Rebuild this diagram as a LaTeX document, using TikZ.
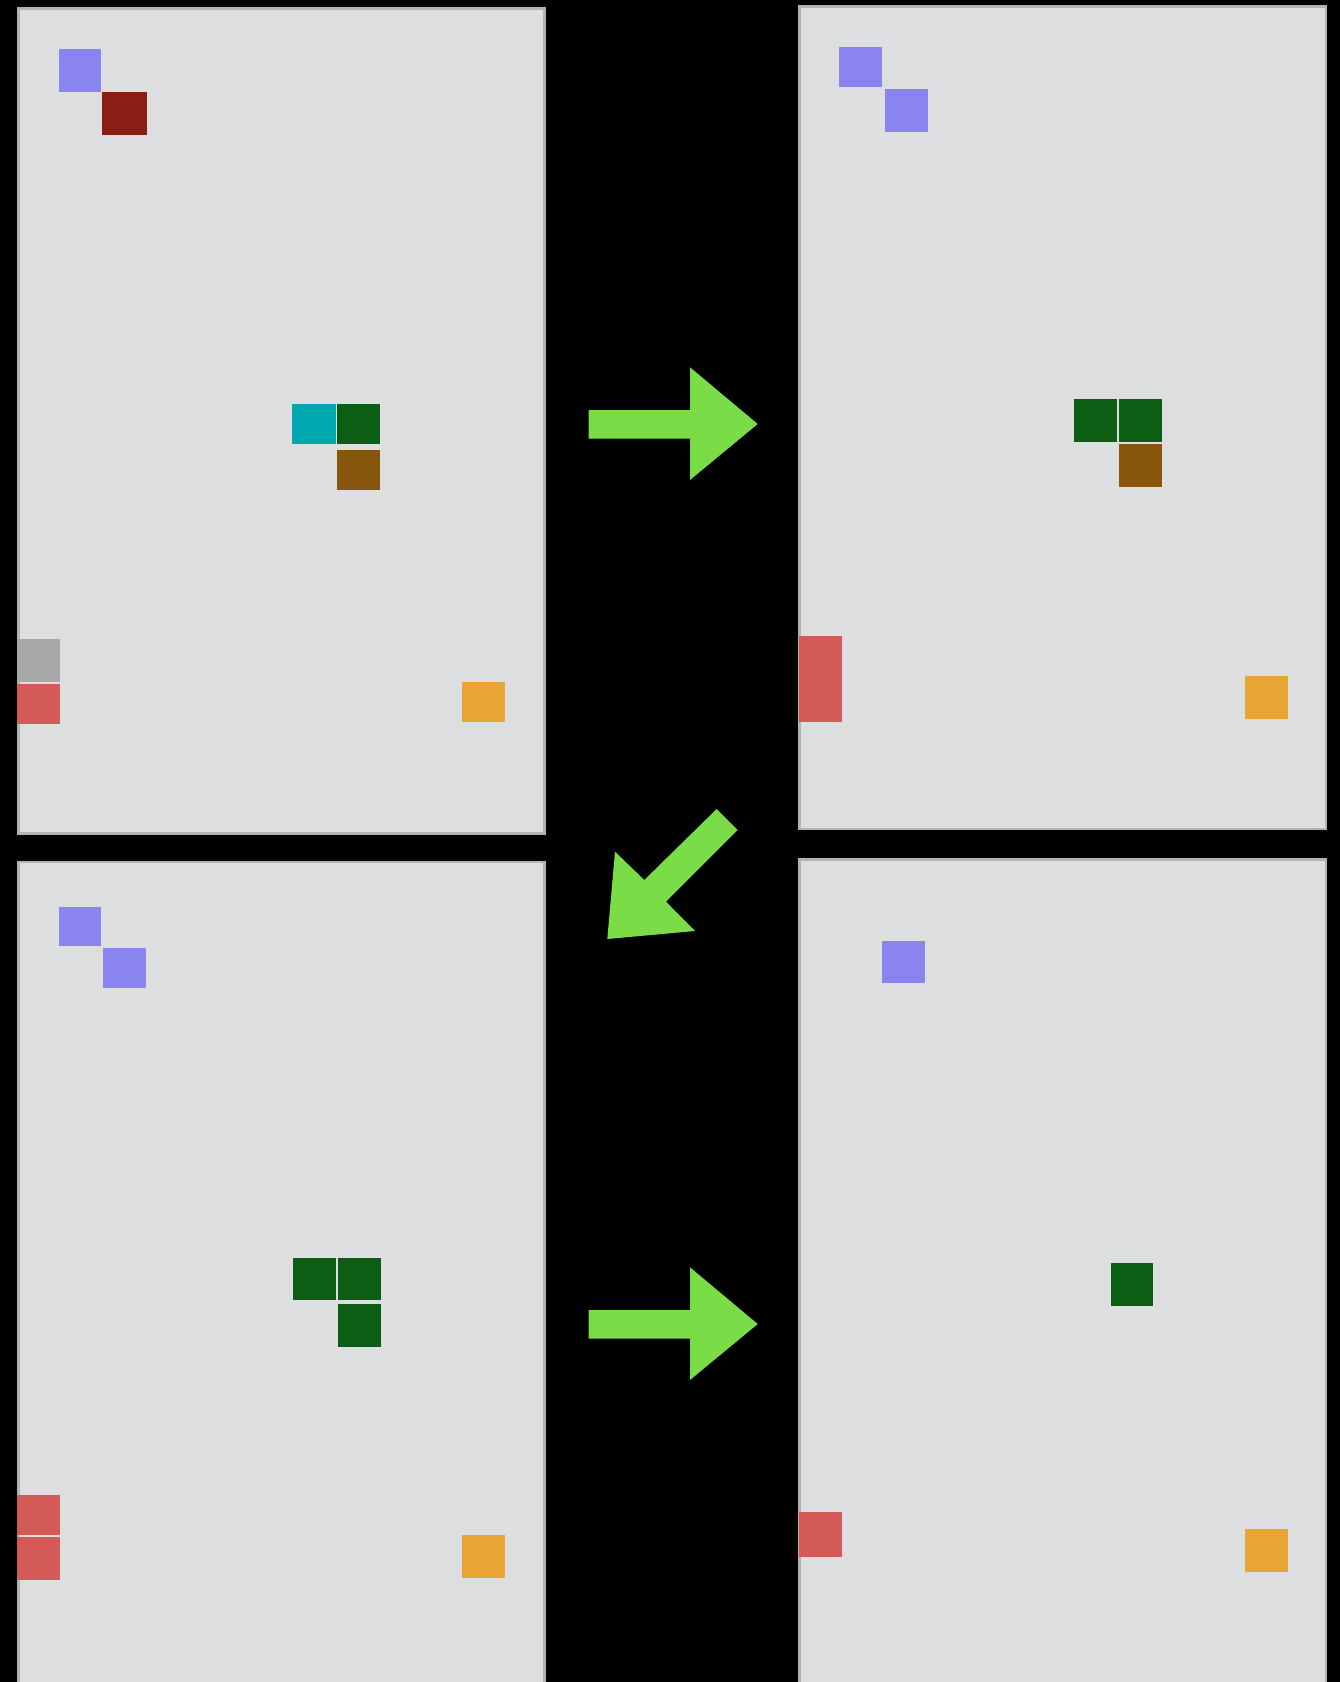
\documentclass[tikz,border=0pt]{standalone}
\usepackage{tikz}

\definecolor{panelbg}{HTML}{DDDEDF}
\definecolor{panelrim}{HTML}{B2B3B3}
\definecolor{tilepurple}{HTML}{8A84F0}
\definecolor{tilemaroon}{HTML}{8B1E14}
\definecolor{tilecyan}{HTML}{00A8B0}
\definecolor{tilegreen}{HTML}{0B5E13}
\definecolor{tilebrown}{HTML}{87550B}
\definecolor{tilegrey}{HTML}{A7AAA9}
\definecolor{tilered}{HTML}{D45A57}
\definecolor{tileorange}{HTML}{E8A534}
\definecolor{arrowgreen}{HTML}{7ADD48}

\begin{document}
\begin{tikzpicture}[x=0.01cm, y=-0.01cm,
  panel/.style={fill=panelbg, draw=panelrim, line width=0.75pt},
  shift arrow/.style={fill=arrowgreen}]
  % Backdrop
  \fill[black] (0,0) rectangle (1340,1682);
  \useasboundingbox (0,0) rectangle (1340,1682);

  % Panels
  \draw[panel] (18.5,8.5) rectangle (544.5,833.8);
  \draw[panel] (799.5,6.5) rectangle (1326,829);
  \draw[panel] (18.5,862) rectangle (544.5,1700);
  \draw[panel] (799.5,859.5) rectangle (1326,1700);

  % Tiles, top left panel
  \foreach \xa/\ya/\xb/\yb/\c in {
      59.3/49/100.7/91.7/tilepurple, 102.3/91.7/146.7/135/tilemaroon,
      292.3/404/335.7/443.7/tilecyan, 337.3/404/380.3/443.7/tilegreen,
      337.3/450/380.3/489.7/tilebrown,
      17.3/639/60.3/682/tilegrey, 17.3/684/60.3/723.7/tilered,
      462.4/682.4/505.3/722/tileorange} {
    \fill[\c] (\xa,\ya) rectangle (\xb,\yb);
  }

  % Tiles, top right panel
  \foreach \xa/\ya/\xb/\yb/\c in {
      839/47/882/87/tilepurple, 885/89/928/132/tilepurple,
      1074/399/1117/441.7/tilegreen, 1119/399/1161.7/441.7/tilegreen,
      1119/444/1161.7/486.7/tilebrown,
      799/636/841.7/721.7/tilered,
      1244.6/676/1287.5/719/tileorange} {
    \fill[\c] (\xa,\ya) rectangle (\xb,\yb);
  }

  % Tiles, bottom left panel
  \foreach \xa/\ya/\xb/\yb/\c in {
      59/906.6/100.9/946/tilepurple, 103/948.4/146/988/tilepurple,
      292.9/1257.5/335.8/1300.4/tilegreen, 338/1257.5/381/1300.4/tilegreen,
      338/1303.6/381/1346.5/tilegreen,
      17.3/1495/60.3/1535/tilered, 17.3/1537/60.3/1579.7/tilered,
      462.4/1535.3/505.3/1578.2/tileorange} {
    \fill[\c] (\xa,\ya) rectangle (\xb,\yb);
  }

  % Tiles, bottom right panel
  \foreach \xa/\ya/\xb/\yb/\c in {
      882/941/925/982.8/tilepurple,
      1110.5/1262.8/1153.3/1305.7/tilegreen,
      799.3/1511.7/842.2/1556.8/tilered,
      1244.6/1528.9/1287.5/1571.8/tileorange} {
    \fill[\c] (\xa,\ya) rectangle (\xb,\yb);
  }

  % Right arrows
  \foreach \dy in {0,900} {
    \fill[shift arrow] (588.7,410+\dy) -- (690,410+\dy) -- (690,367.3+\dy)
      -- (757.7,424+\dy) -- (690,480+\dy) -- (690,438.7+\dy)
      -- (588.7,438.7+\dy) -- cycle;
  }

  % Diagonal arrow
  \fill[shift arrow] (716.7,809) -- (737.7,830) -- (666,901.7) -- (695,931)
    -- (607.3,939) -- (615,851.7) -- (644.3,880) -- cycle;
\end{tikzpicture}
\end{document}
